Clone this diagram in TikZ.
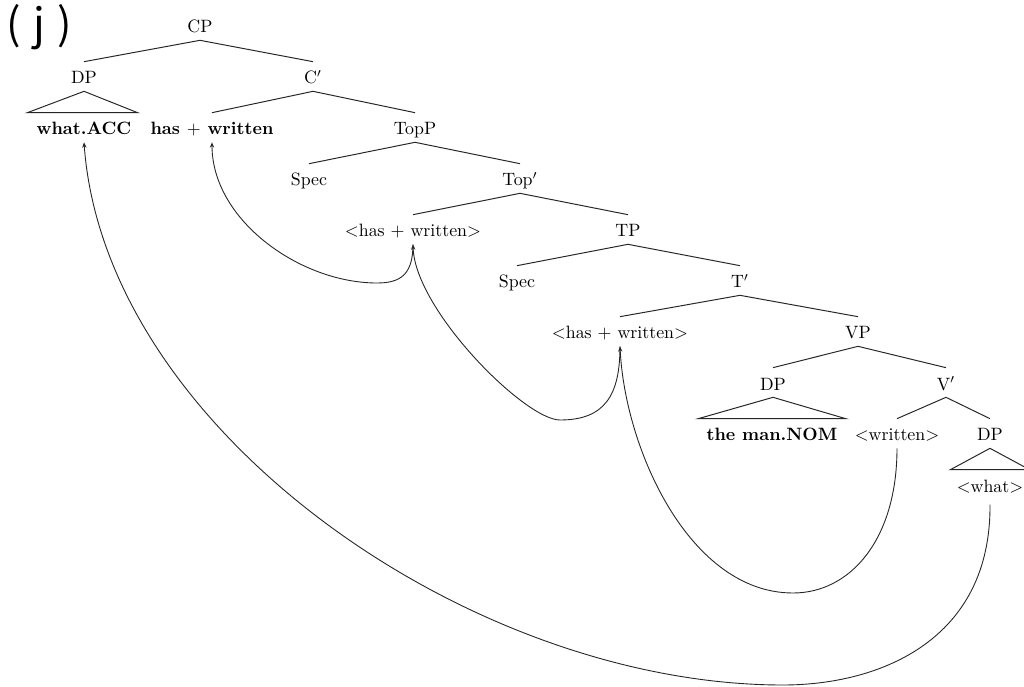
\documentclass[tikz,border=0pt]{standalone}
\usepackage{fontspec}
\newfontfamily\labelfont{Noto Sans CJK SC}
\usetikzlibrary{arrows.meta,calc}
\begin{document}
\begin{tikzpicture}[x=0.56pt,y=-0.56pt,
  tn/.style={inner xsep=0pt, inner ysep=3.9pt, text height=8.4pt, text depth=0pt, anchor=base, font=\fontsize{10}{12}\selectfont},
  br/.style={line width=0.55pt, draw=black!85},
  tri/.style={line width=0.55pt, draw=black!85},
  mv/.style={line width=0.5pt, draw=black!85, -{Stealth[length=3pt,width=2.4pt]}}]
\useasboundingbox (0,0) rectangle (1024,687);
% label
\node[font=\labelfont\fontsize{24}{28}\selectfont, inner sep=0pt, anchor=west] (lab) at (6,27) {(\kern7pt j\kern7pt)};
% tree nodes
\node[tn] (CP) at (200,33) {CP};
\node[tn] (DP1) at (84,84) {DP};
\node[tn] (C1) at (313,84) {C$'$};
\node[tn] (acc) at (84,135) {\textbf{what.ACC}};
\node[tn] (hw) at (212,135) {\textbf{has $+$ written}};
\node[tn] (TopP) at (415,135) {TopP};
\node[tn] (Spec1) at (309,186) {Spec};
\node[tn] (Top1) at (520,186) {Top$'$};
\node[tn] (hw1) at (413,237) {$<$has $+$ written$>$};
\node[tn] (TP) at (628,237) {TP};
\node[tn] (Spec2) at (517,288) {Spec};
\node[tn] (T1) at (740,288) {T$'$};
\node[tn] (hw2) at (620,339) {$<$has $+$ written$>$};
\node[tn] (VP) at (858,339) {VP};
\node[tn] (DP2) at (773,390) {DP};
\node[tn] (V1) at (946,390) {V$'$};
\node[tn] (nom) at (772,441) {\textbf{the man.NOM}};
\node[tn] (wr) at (897,441) {$<$written$>$};
\node[tn] (DP3) at (990,441) {DP};
\node[tn] (wh) at (990,492) {$<$what$>$};
% branches
\draw[br] (CP.south) -- (DP1.north);
\draw[br] (CP.south) -- (C1.north);
\draw[br] (C1.south) -- (hw.north);
\draw[br] (C1.south) -- (TopP.north);
\draw[br] (TopP.south) -- (Spec1.north);
\draw[br] (TopP.south) -- (Top1.north);
\draw[br] (Top1.south) -- (hw1.north);
\draw[br] (Top1.south) -- (TP.north);
\draw[br] (TP.south) -- (Spec2.north);
\draw[br] (TP.south) -- (T1.north);
\draw[br] (T1.south) -- (hw2.north);
\draw[br] (T1.south) -- (VP.north);
\draw[br] (VP.south) -- (DP2.north);
\draw[br] (VP.south) -- (V1.north);
\draw[br] (V1.south) -- (wr.north);
\draw[br] (V1.south) -- (DP3.north);
% triangles
\draw[tri] (DP1.south) -- ($(acc.north west)+(-9,0)$) -- ($(acc.north east)+(6,0)$) -- cycle;
\draw[tri] (DP2.south) -- ($(nom.north west)+(-8,0)$) -- ($(nom.north east)+(8,0)$) -- cycle;
\draw[tri] (DP3.south) -- ($(wh.north west)+(-6,0)$) -- ($(wh.north east)+(6,0)$) -- cycle;
% movement arrows
\coordinate (b1) at (783,685);
\coordinate (b2) at (793,593);
\coordinate (b3) at (560,420);
\coordinate (b4) at (377,283);
\draw[mv] ([yshift=-3pt]wh.south) .. controls (991,640) and (880,685) .. (b1) .. controls (470,685) and (105,430) .. (acc.south);
\draw[mv] (wr.south) .. controls (897,540) and (850,593) .. (b2) .. controls (690,593) and (625,450) .. (hw2.south);
\draw[mv] (hw2.south) .. controls (620,395) and (605,420) .. (b3) .. controls (525,420) and (415,310) .. (hw1.south);
\draw[mv] (hw1.south) .. controls (413,275) and (400,283) .. (b4) .. controls (300,283) and (212,220) .. (hw.south);
\end{tikzpicture}
\end{document}
